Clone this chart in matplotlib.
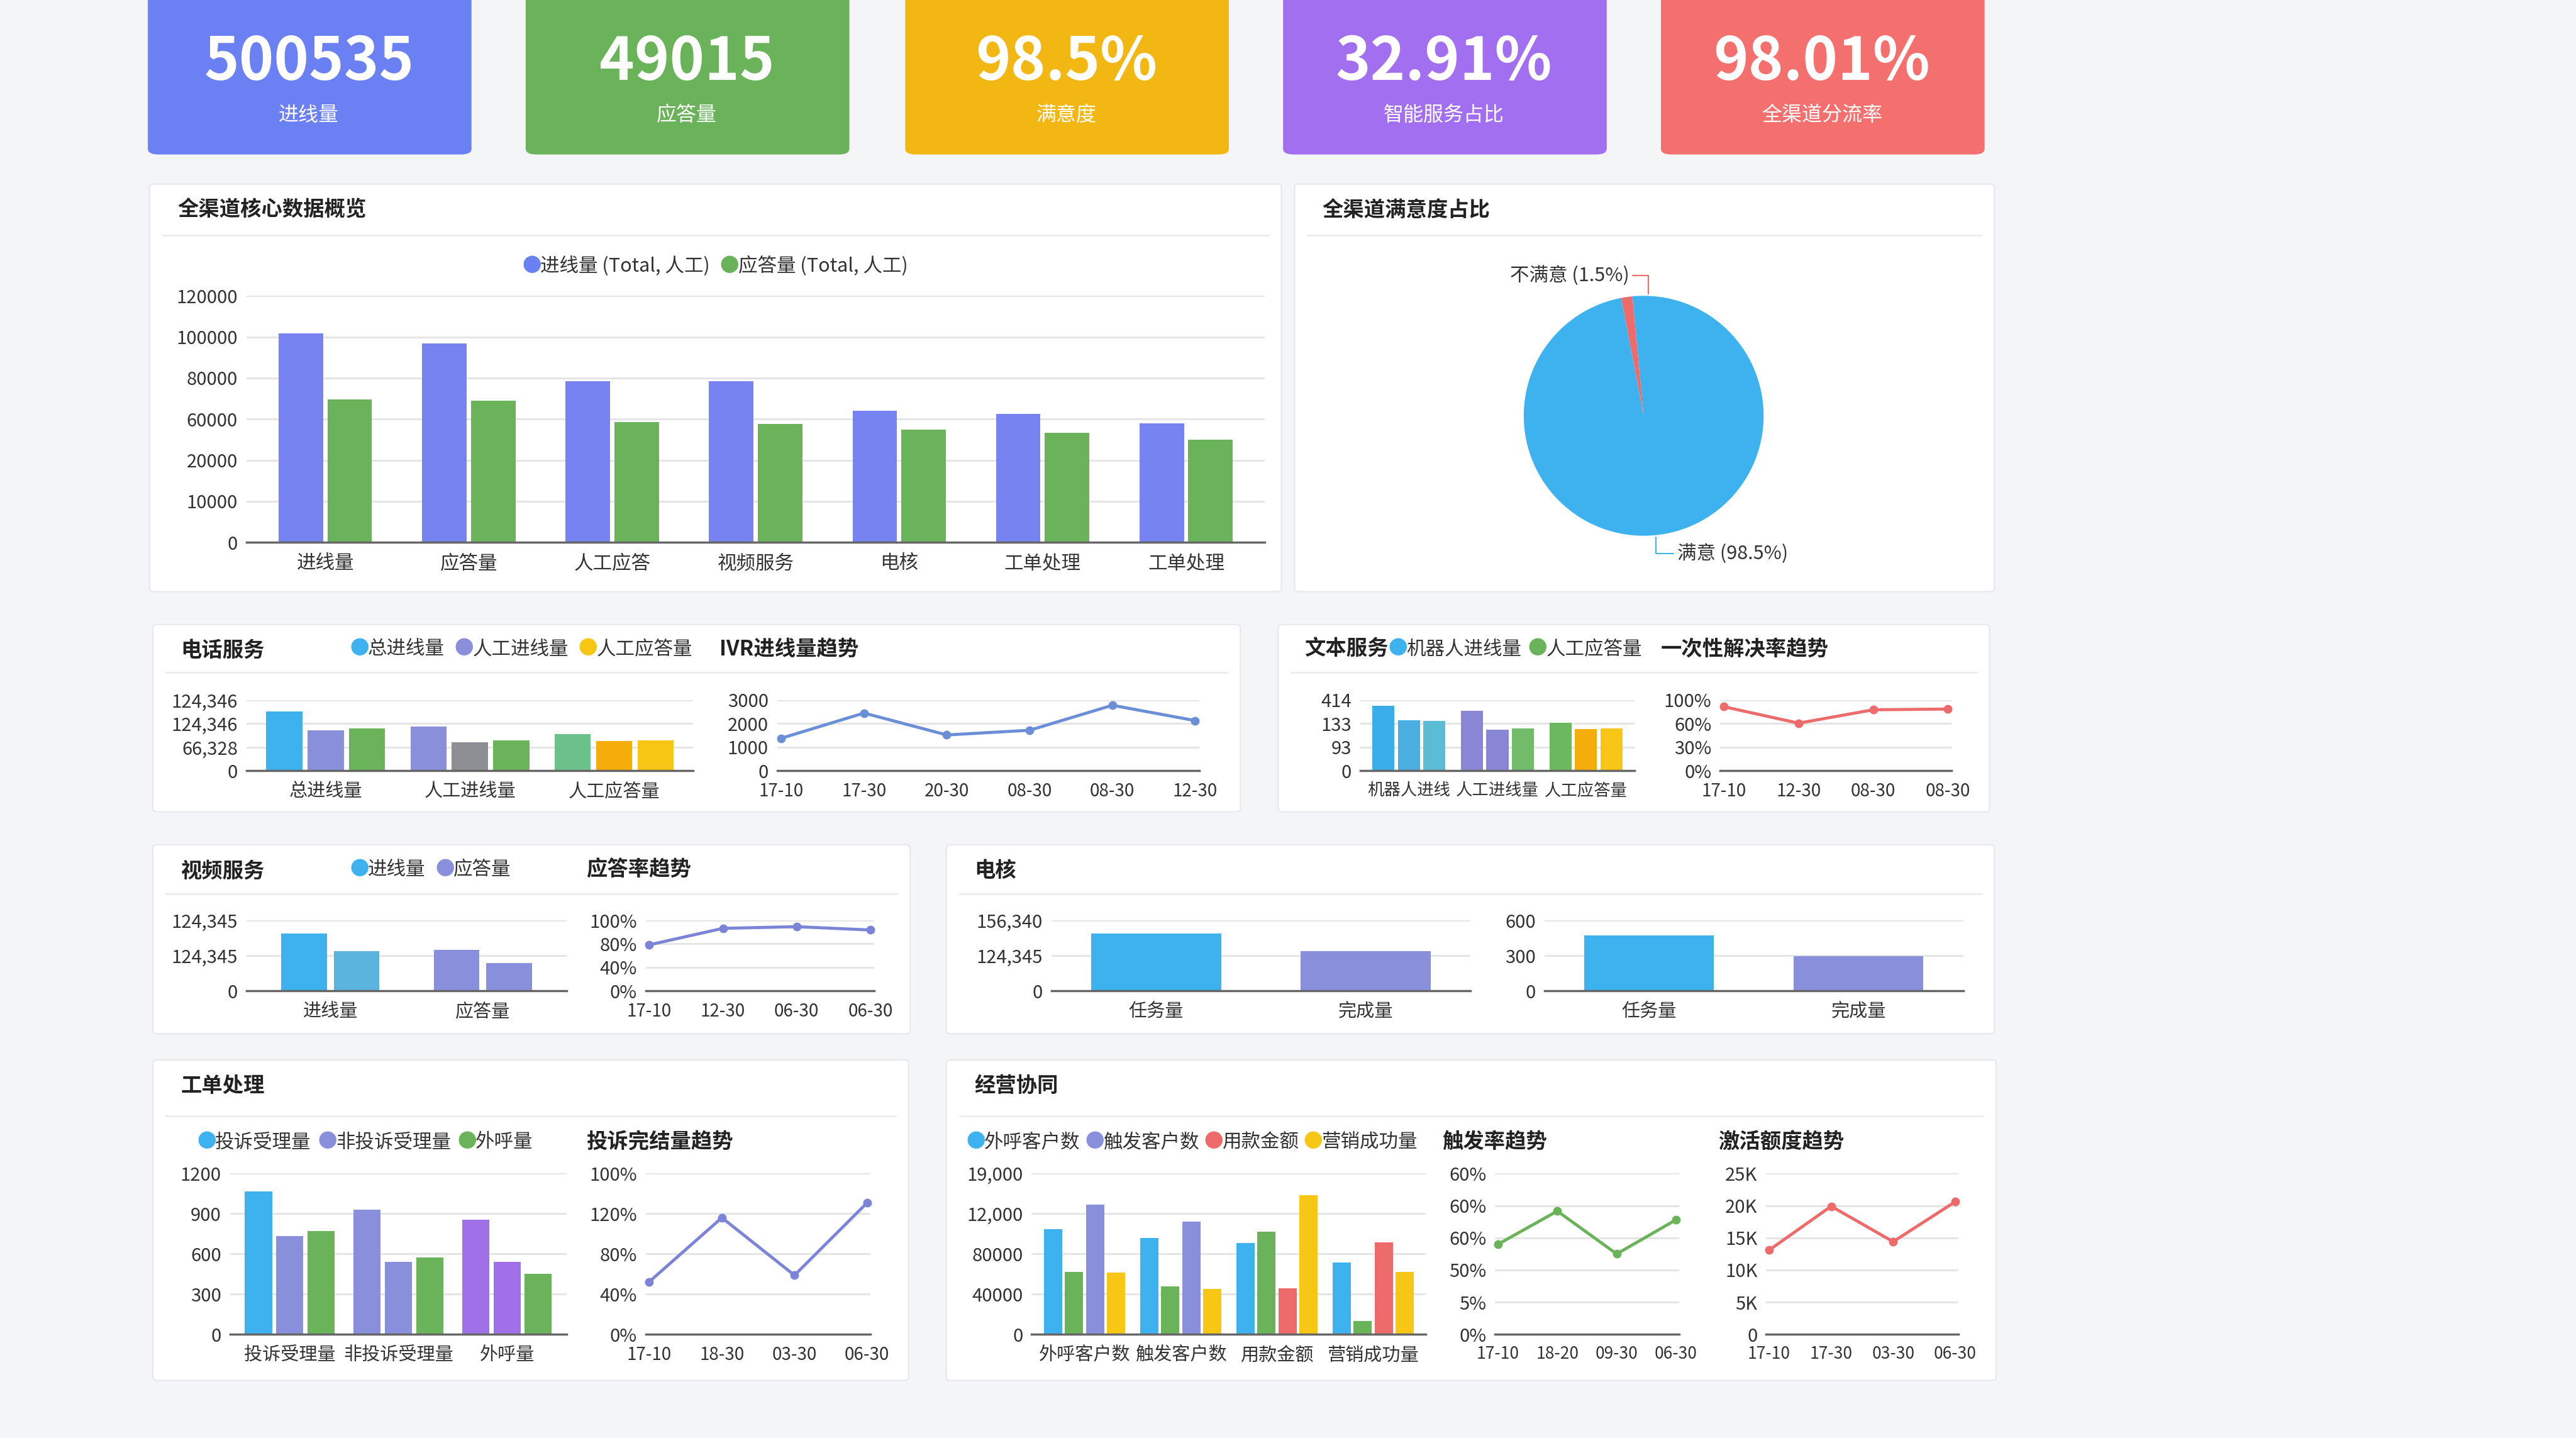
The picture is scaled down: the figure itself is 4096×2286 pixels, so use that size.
import numpy as np
import matplotlib
matplotlib.use('Agg')
import matplotlib.pyplot as plt
from matplotlib.patches import FancyBboxPatch

plt.rcParams['font.family'] = ['Noto Sans CJK SC', 'DejaVu Sans']

# ---------------- data ----------------
kpi_values = ['500535', '49015', '98.5%', '32.91%', '98.01%']
kpi_labels = ['进线量', '应答量', '满意度', '智能服务占比', '全渠道分流率']

core_cats = ['进线量', '应答量', '人工应答', '视频服务', '电核', '工单处理', '工单处理']
core_ticks = [0, 10000, 20000, 60000, 80000, 100000, 120000]
core_in = [101600, 96800, 78400, 78400, 64000, 62400, 56000]
core_ans = [69600, 68800, 56800, 55200, 49600, 46400, 40000]

sat_labels = ['满意 (98.5%)', '不满意 (1.5%)']
sat_values = [98.5, 1.5]

# axes with odd tick labels: values given in tick-slot units
phone_cats = ['总进线量', '人工进线量', '人工应答量']
phone_ticks = ['0', '66,328', '124,346', '124,346']
phone_vals = [[2.53, 1.73, 1.80], [1.89, 1.21, 1.29], [1.57, 1.25, 1.29]]

ivr_x = ['17-10', '17-30', '20-30', '08-30', '08-30', '12-30']
ivr_ticks = [0, 1000, 2000, 3000]
ivr_y = [1380, 2450, 1520, 1720, 2780, 2130]

text_cats = ['机器人进线', '人工进线量', '人工应答量']
text_ticks = ['0', '93', '133', '414']
text_vals = [[2.77, 2.15, 2.13], [2.55, 1.75, 1.79], [2.05, 1.77, 1.80]]

fcr_x = ['17-10', '12-30', '08-30', '08-30']
fcr_ticks = [0, 30, 60, 100]
fcr_y = [88.8, 60.8, 83.6, 84.8]

video_cats = ['进线量', '应答量']
video_ticks = ['0', '124,345', '124,345']
video_vals = [[1.63, 1.12], [1.16, 0.79]]

ansrate_x = ['17-10', '12-30', '06-30', '06-30']
ansrate_ticks = [0, 40, 80, 100]
ansrate_y = [78.4, 93.2, 94.6, 91.8]

check_cats = ['任务量', '完成量']
check_ticks_l = ['0', '124,345', '156,340']
check_vals_l = [1.63, 1.12]
check_ticks_r = [0, 300, 600]
check_vals_r = [474, 294]

order_cats = ['投诉受理量', '非投诉受理量', '外呼量']
order_ticks = [0, 300, 600, 900, 1200]
order_vals = [[1065, 735, 771], [931, 539, 576], [857, 539, 453]]

done_x = ['17-10', '18-30', '03-30', '06-30']
done_ticks = ['0%', '40%', '80%', '120%', '100%']
done_y = [1.31, 2.90, 1.47, 3.27]

biz_cats = ['外呼客户数', '触发客户数', '用款金额', '营销成功量']
biz_ticks = ['0', '40000', '80000', '12,000', '19,000']
biz_vals = [[2.61, 1.56, 3.23, 1.53], [2.40, 1.20, 2.81, 1.13],
            [2.27, 2.55, 1.14, 3.46], [1.78, 0.34, 2.29, 1.55]]

trig_x = ['17-10', '18-20', '09-30', '06-30']
trig_ticks = ['0%', '5%', '50%', '60%', '60%', '60%']
trig_y = [2.80, 3.83, 2.50, 3.56]

act_x = ['17-10', '17-30', '03-30', '06-30']
act_ticks = [0, 5000, 10000, 15000, 20000, 25000]
act_labels = ['0', '5K', '10K', '15K', '20K', '25K']
act_y = [13100, 19900, 14400, 20600]

# ---------------- layout helpers ----------------
W, H = 1568, 875
BLUE, PURPLE, GREEN = '#3db2ee', '#8a8fdc', '#6ab35a'
YELLOW, ORANGE, RED = '#f8c715', '#f5ad0c', '#ee6b6b'
TXT = '#333333'

fig = plt.figure(figsize=(40.96, 22.86), dpi=100)
fig.patch.set_facecolor('#f4f5f7')
renderer = fig.canvas.get_renderer()


def fx(x):
    return x / W


def fy(y):
    return 1 - y / H


def panel(x0, y0, x1, y1, title=None, line_y=None):
    p = FancyBboxPatch((fx(x0), fy(y1)), fx(x1) - fx(x0), fy(y0) - fy(y1),
                       boxstyle='round,pad=0,rounding_size=0.002',
                       transform=fig.transFigure, facecolor='white',
                       edgecolor='#e6e8ec', lw=1.5, zorder=-5)
    fig.add_artist(p)
    if title:
        fig.text(fx(x0 + 17), fy(y0 + 16), title, fontsize=24, fontweight='bold',
                 color='#222222', va='center')
    if line_y:
        fig.add_artist(plt.Line2D([fx(x0 + 8), fx(x1 - 8)], [fy(line_y)] * 2,
                                  transform=fig.transFigure, color='#ececec', lw=2, zorder=-4))


def sub_title(x, y, s):
    fig.text(fx(x), fy(y), s, fontsize=24, fontweight='bold', color='#222222', va='center')


def legend(x, y, items, gap=6):
    for lab, c in items:
        fig.text(fx(x), fy(y), '●', color=c, fontsize=22, va='center', ha='left')
        t = fig.text(fx(x + 11), fy(y), lab, fontsize=22, color=TXT, va='center', ha='left')
        w = t.get_window_extent(renderer).width / 4096 * W
        x += 11 + w + gap


def mkax(x0, y0, x1, y1, labels, ticks=None, fs=21):
    ax = fig.add_axes([fx(x0), fy(y1), fx(x1) - fx(x0), fy(y0) - fy(y1)])
    if ticks is None:
        ticks = list(range(len(labels)))
    ax.set_ylim(ticks[0], ticks[-1])
    ax.set_yticks(ticks, labels)
    ax.grid(axis='y', color='#e4e4e4', lw=2)
    ax.set_axisbelow(True)
    for s in ['top', 'right', 'left']:
        ax.spines[s].set_visible(False)
    ax.spines['bottom'].set_color('#666666')
    ax.spines['bottom'].set_linewidth(2.5)
    ax.tick_params(length=0, labelsize=fs, colors=TXT)
    ax.tick_params(axis='y', pad=10)
    ax.tick_params(axis='x', pad=13)
    ax.set_facecolor('none')
    return ax


def grouped(ax, cats, vals, colors, width=0.25, fs=21):
    n = len(vals[0])
    for i, grp in enumerate(vals):
        for j, v in enumerate(grp):
            ax.bar(i + (j - (n - 1) / 2) * width * 1.15, v, width, color=colors[i][j])
    ax.set_xticks(range(len(cats)))
    ax.set_xticklabels(cats, fontsize=fs)
    ax.set_xlim(-0.55, len(cats) - 0.45)


def line(ax, xs, ys, color, fs=20):
    ax.plot(range(len(xs)), ys, color=color, lw=3.5, marker='o', ms=9, clip_on=False)
    ax.set_xticks(range(len(xs)))
    ax.set_xticklabels(xs, fontsize=fs)
    ax.set_xlim(-0.05, len(xs) - 0.95)


# ---------------- KPI cards ----------------
kpi_colors = ['#6b80f3', '#6ab35a', '#f3b713', '#a36ff1', '#f4706f']
kpi_x = [90, 320, 551, 781, 1011]
for x, v, lab, c in zip(kpi_x, kpi_values, kpi_labels, kpi_colors):
    fig.add_artist(FancyBboxPatch((fx(x), fy(94)), fx(197), fy(0) - fy(94) + 0.01,
                                  boxstyle='round,pad=0,rounding_size=0.004',
                                  transform=fig.transFigure, facecolor=c,
                                  edgecolor='none', zorder=-5))
    fig.text(fx(x + 98), fy(38), v, fontsize=68, fontweight='bold', color='white',
             ha='center', va='center')
    fig.text(fx(x + 98), fy(70), lab, fontsize=23, color='white', ha='center', va='center')

# ---------------- core overview ----------------
panel(91, 112, 780, 360, '全渠道核心数据概览', 143)
legend(318, 162, [('进线量 (Total, 人工)', '#6b80f3'), ('应答量 (Total, 人工)', GREEN)])
ax = mkax(150, 180, 770, 330, [str(t) for t in core_ticks])
pos = np.arange(len(core_cats))
ax.bar(pos - 0.17, np.interp(core_in, core_ticks, range(len(core_ticks))), 0.31, color='#7683f0')
ax.bar(pos + 0.17, np.interp(core_ans, core_ticks, range(len(core_ticks))), 0.31, color=GREEN)
ax.set_xticks(pos)
ax.set_xticklabels(core_cats, fontsize=22)
ax.set_xlim(-0.55, len(core_cats) - 0.45)

# ---------------- satisfaction pie ----------------
panel(788, 112, 1214, 360, '全渠道满意度占比', 143)
pax = fig.add_axes([fx(927), fy(326), fx(147), fy(0) - fy(146)])
pax.pie(sat_values, colors=['#3db2ee', RED], startangle=90 + 360 * 1.5 / 100,
        counterclock=False, radius=1.0)
pax.set_xlim(-1, 1)
pax.set_ylim(-1, 1)
pax.set_aspect('equal')
pax.annotate(sat_labels[1], xy=(0.04, 1.0), xytext=(-0.12, 1.17), fontsize=22, color=TXT,
             ha='right', va='center', annotation_clip=False,
             arrowprops=dict(arrowstyle='-', color=RED, lw=1.5,
                             connectionstyle='angle,angleA=0,angleB=90'))
pax.annotate(sat_labels[0], xy=(0.1, -1.0), xytext=(0.28, -1.15), fontsize=22, color=TXT,
             ha='left', va='center', annotation_clip=False,
             arrowprops=dict(arrowstyle='-', color='#3db2ee', lw=1.5,
                             connectionstyle='angle,angleA=0,angleB=90'))

# ---------------- phone service ----------------
panel(93, 380, 755, 494, '电话服务', 409)
legend(213, 395, [('总进线量', BLUE), ('人工进线量', PURPLE), ('人工应答量', YELLOW)])
sub_title(438, 395, 'IVR进线量趋势')
ax = mkax(150, 426, 422, 469, phone_ticks)
grouped(ax, phone_cats, phone_vals,
        [[BLUE, PURPLE, GREEN], [PURPLE, '#8e8f95', GREEN], ['#6cc08a', ORANGE, YELLOW]])
ax = mkax(473, 426, 730, 469, [str(t) for t in ivr_ticks], ivr_ticks)
line(ax, ivr_x, ivr_y, '#6b8fd6')

# ---------------- text service ----------------
panel(778, 380, 1211, 494, None, 409)
sub_title(794, 395, '文本服务')
legend(845, 395, [('机器人进线量', BLUE), ('人工应答量', GREEN)], gap=4)
sub_title(1011, 395, '一次性解决率趋势')
ax = mkax(828, 426, 995, 469, text_ticks)
grouped(ax, text_cats, text_vals,
        [['#3aaee8', '#4aaee0', '#5bbcd6'], ['#8a86d6', '#8a86d6', '#72bb6a'],
         ['#6cb85e', ORANGE, YELLOW]], fs=19)
ax = mkax(1047, 426, 1188, 469, [f'{t}%' for t in fcr_ticks])
line(ax, fcr_x, np.interp(fcr_y, fcr_ticks, range(len(fcr_ticks))), RED)

# ---------------- video service ----------------
panel(93, 514, 554, 629, '视频服务', 544)
legend(213, 529, [('进线量', BLUE), ('应答量', PURPLE)])
sub_title(357, 529, '应答率趋势')
ax = mkax(150, 560, 345, 603, video_ticks)
grouped(ax, video_cats, video_vals, [[BLUE, '#5bb4de'], [PURPLE, PURPLE]], width=0.3)
ax = mkax(393, 560, 532, 603, [f'{t}%' for t in ansrate_ticks])
line(ax, ansrate_x, np.interp(ansrate_y, ansrate_ticks, range(len(ansrate_ticks))), '#7b84d6')

# ---------------- credit check ----------------
panel(576, 514, 1214, 629, '电核', 544)
ax = mkax(640, 560, 895, 603, check_ticks_l)
ax.bar(range(2), check_vals_l, 0.62, color=[BLUE, PURPLE])
ax.set_xticks(range(2))
ax.set_xticklabels(check_cats)
ax.set_xlim(-0.5, 1.5)
ax = mkax(940, 560, 1195, 603, [str(t) for t in check_ticks_r], check_ticks_r)
ax.bar(range(2), check_vals_r, 0.62, color=[BLUE, PURPLE])
ax.set_xticks(range(2))
ax.set_xticklabels(check_cats)
ax.set_xlim(-0.5, 1.5)

# ---------------- work orders ----------------
panel(93, 645, 553, 840, '工单处理', 679)
legend(120, 695, [('投诉受理量', BLUE), ('非投诉受理量', PURPLE), ('外呼量', GREEN)], gap=4)
sub_title(357, 695, '投诉完结量趋势')
ax = mkax(140, 714, 345, 812, [str(t) for t in order_ticks], order_ticks)
grouped(ax, order_cats, order_vals,
        [[BLUE, PURPLE, GREEN], [PURPLE, PURPLE, GREEN], ['#a070e8', '#a070e8', GREEN]])
ax = mkax(393, 714, 530, 812, done_ticks)
line(ax, done_x, done_y, '#7b84d6')

# ---------------- business collaboration ----------------
panel(576, 645, 1215, 840, '经营协同', 679)
legend(588, 695, [('外呼客户数', BLUE), ('触发客户数', PURPLE), ('用款金额', RED),
                  ('营销成功量', YELLOW)], gap=3)
sub_title(878, 695, '触发率趋势')
sub_title(1046, 695, '激活额度趋势')
ax = mkax(628, 714, 868, 812, biz_ticks)
grouped(ax, biz_cats, biz_vals,
        [[BLUE, GREEN, PURPLE, YELLOW], [BLUE, GREEN, PURPLE, YELLOW],
         [BLUE, GREEN, RED, YELLOW], [BLUE, GREEN, RED, YELLOW]], width=0.19)
ax = mkax(910, 714, 1022, 812, trig_ticks)
line(ax, trig_x, trig_y, GREEN, fs=19)
ax = mkax(1075, 714, 1192, 812, act_labels, act_ticks)
line(ax, act_x, act_y, RED, fs=19)

fig.savefig('out.png', dpi=100, facecolor=fig.get_facecolor())
